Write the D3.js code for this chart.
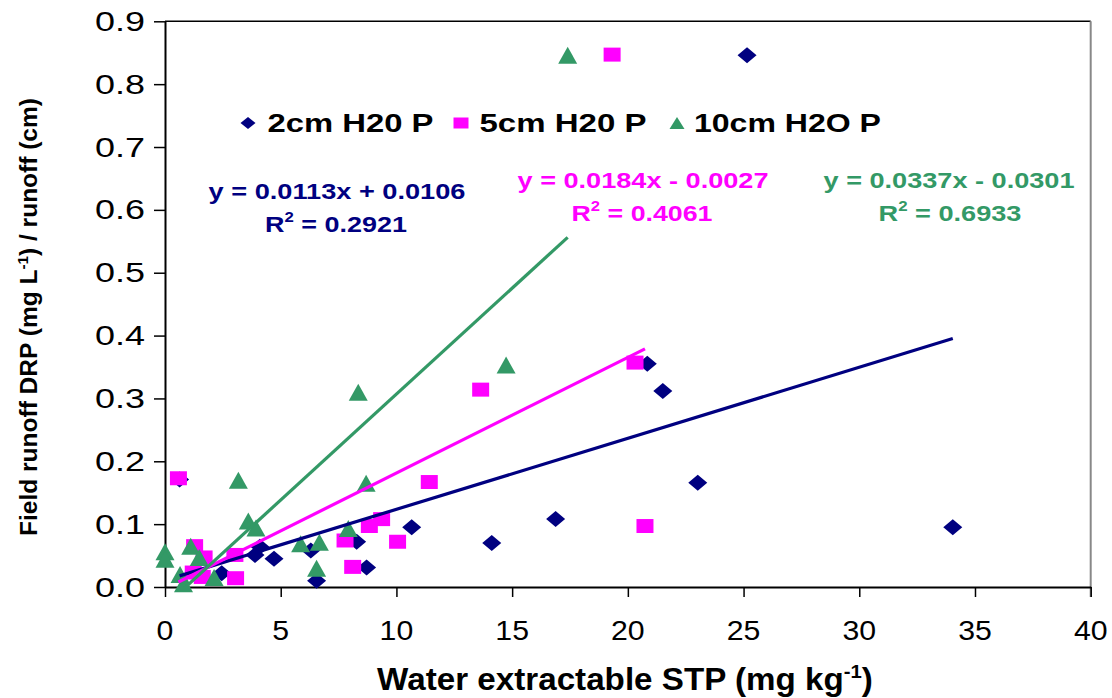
<!DOCTYPE html>
<html><head><meta charset="utf-8">
<script src="https://cdn.jsdelivr.net/npm/d3@7"></script>
<style>
body{margin:0;background:#fff}
svg{display:block}
text{font-family:"Liberation Sans",Arial,sans-serif}
</style>
</head><body>
<svg id="c" width="1112" height="698"></svg>
<script>
// ---- data ----
const seriesNames = ["2cm H20 P", "5cm H20 P", "10cm H2O P"];
const colors = ["#000080", "#FF00FF", "#339966"];
const xTicks = [0, 5, 10, 15, 20, 25, 30, 35, 40];
const yTicks = [0, 0.1, 0.2, 0.3, 0.4, 0.5, 0.6, 0.7, 0.8, 0.9];

const data2cm = [[0.63,0.171],[2.45,0.022],[3.89,0.051],[4.1,0.064],[4.71,0.045],[6.3,0.058],[6.55,0.010],[8.28,0.072],[8.71,0.031],[10.66,0.095],[14.12,0.070],[16.88,0.108],[20.84,0.355],[21.51,0.312],[23.02,0.166],[25.15,0.846],[34.04,0.095]];
const data5cm = [[0.58,0.173],[1.28,0.065],[1.69,0.047],[1.22,0.023],[1.61,0.016],[3.02,0.051],[3.05,0.014],[7.78,0.074],[8.11,0.032],[8.83,0.097],[9.36,0.108],[10.05,0.072],[11.42,0.167],[13.64,0.314],[19.32,0.847],[20.31,0.357],[20.74,0.097]];
const data10cm = [[0,0.056],[0,0.044],[0.65,0.02],[0.8,0.005],[1.11,0.065],[1.48,0.047],[2.12,0.015],[3.17,0.170],[3.6,0.105],[3.93,0.094],[5.86,0.069],[6.55,0.030],[6.67,0.071],[7.92,0.093],[8.35,0.310],[8.69,0.165],[14.74,0.353],[17.4,0.846]];

const trendSlope = [0.0113, 0.0184, 0.0337];
const trendIntercept = [0.0106, -0.0027, -0.0301];
const trendR2 = [0.2921, 0.4061, 0.6933];

// ---- layout ----
const svg = d3.select("#c");
const x = d3.scaleLinear().domain([0, 40]).range([165, 1090.7]);
const y = d3.scaleLinear().domain([0, 0.9]).range([587, 21.3]);
const allData = [data2cm, data5cm, data10cm];

function fit(t, w, tx, ty, rot) {
  const bw = t.node().getBBox().width;
  const s = w / bw;
  t.attr("transform", `translate(${tx},${ty})` + (rot ? ` rotate(${rot})` : "") + ` scale(${s},1)`);
}

const shape = [
  (w,h)=>`M0,${-h/2}L${w/2},0L0,${h/2}L${-w/2},0Z`,
  (w,h)=>`M${-w/2},${-h/2}h${w}v${h}h${-w}Z`,
  (w,h)=>`M0,${-h/2}L${w/2},${h/2}L${-w/2},${h/2}Z`
];
const msize = [[19,16],[17,14],[19,17]];

// frame
svg.append("line").attr("x1", x(0)).attr("x2", x(40)).attr("y1", y(0.9)).attr("y2", y(0.9))
  .attr("stroke", "#000").attr("stroke-width", 1.5);
svg.append("line").attr("x1", x(40)).attr("x2", x(40)).attr("y1", y(0.9)).attr("y2", y(0) + 10)
  .attr("stroke", "#888").attr("stroke-width", 2);

// axes
const gx = svg.append("g").attr("transform", `translate(0,${y(0)})`)
  .call(d3.axisBottom(x).tickValues(xTicks).tickSize(10).tickSizeOuter(0).tickFormat(""));
const gy = svg.append("g").attr("transform", `translate(${x(0)},0)`)
  .call(d3.axisLeft(y).tickValues(yTicks).tickSize(11).tickSizeOuter(0).tickFormat(""));
[gx, gy].forEach(g => {
  g.select(".domain").attr("stroke", "#000").attr("stroke-width", 2);
  g.selectAll(".tick line").attr("stroke", "#000").attr("stroke-width", 1.5);
});

// tick labels
svg.append("g").selectAll("text").data(xTicks).join("text")
  .attr("text-anchor", "middle").attr("font-size", 28).attr("fill", "#000")
  .text(d => d)
  .each(function(d){ d3.select(this).attr("transform", `translate(${x(d)},640) scale(1.08,1)`); });
svg.append("g").selectAll("text").data(yTicks).join("text")
  .attr("text-anchor", "end").attr("font-size", 27).attr("fill", "#000")
  .text(d => d.toFixed(1))
  .each(function(d){ fit(d3.select(this), 50, 145, y(d) + 9.5); });

// axis titles
const xt = svg.append("text").attr("text-anchor", "middle").attr("font-size", 31)
  .attr("font-weight", "bold");
xt.append("tspan").text("Water extractable STP (mg kg");
xt.append("tspan").attr("font-size", 19).attr("dy", -12).text("-1");
xt.append("tspan").attr("dy", 12).text(")");
fit(xt, 496, 625, 690);

const yt = svg.append("text").attr("text-anchor", "middle").attr("font-size", 24)
  .attr("font-weight", "bold");
yt.append("tspan").text("Field runoff DRP (mg L");
yt.append("tspan").attr("font-size", 15).attr("dy", -9).text("-1");
yt.append("tspan").attr("dy", 9).text(") / runoff (cm)");
fit(yt, 438, 37, 317, -90);

// markers
allData.forEach((ds, i) => {
  svg.append("g").selectAll("path").data(ds).join("path")
    .attr("d", shape[i](msize[i][0], msize[i][1]))
    .attr("transform", d => `translate(${x(d[0])},${y(d[1])})`)
    .attr("fill", colors[i]);
});

// trendlines
svg.append("clipPath").attr("id", "clip").append("rect")
  .attr("x", x(0)).attr("y", y(0.9)).attr("width", x(40) - x(0)).attr("height", y(0) - y(0.9));
const line = d3.line().x(d => x(d[0])).y(d => y(d[1]));
allData.forEach((ds, i) => {
  const ext = d3.extent(ds, d => d[0]);
  const pts = ext.map(v => [v, trendSlope[i] * v + trendIntercept[i]]);
  svg.append("path").attr("d", line(pts)).attr("stroke", colors[i]).attr("stroke-width", 3.2)
    .attr("fill", "none").attr("clip-path", "url(#clip)");
});

// legend
const legX = [248, 461, 677];
const legTextX = [267.5, 479.5, 694];
const legW = [166, 167, 187];
seriesNames.forEach((n, i) => {
  svg.append("path").attr("d", shape[i](15, i === 1 ? 11 : 12))
    .attr("transform", `translate(${legX[i]},123)`).attr("fill", colors[i]);
  const t = svg.append("text").attr("font-size", 25).attr("font-weight", "bold").attr("fill", "#000").text(n);
  fit(t, legW[i], legTextX[i], 132);
});

// equations
const eqCx = [337, 643, 949];
const r2Cx = [336, 642, 950];
const eqY = [198.5, 187.5, 187.5];
const r2Y = [232, 221, 221];
const eqW = [257, 251, 251];
const r2W = [142, 141, 143];
function eqStr(m, b) { return `y = ${m.toFixed(4)}x ${b < 0 ? "-" : "+"} ${Math.abs(b).toFixed(4)}`; }
trendSlope.forEach((m, i) => {
  const t = svg.append("text").attr("text-anchor", "middle").attr("font-size", 22.5)
    .attr("font-weight", "bold").attr("fill", colors[i]).text(eqStr(m, trendIntercept[i]));
  fit(t, eqW[i], eqCx[i], eqY[i]);
  const r = svg.append("text").attr("text-anchor", "middle").attr("font-size", 22.5)
    .attr("font-weight", "bold").attr("fill", colors[i]);
  r.append("tspan").text("R");
  r.append("tspan").attr("font-size", 14).attr("dy", -10).text("2");
  r.append("tspan").attr("dy", 10).text(" = " + trendR2[i].toFixed(4));
  fit(r, r2W[i], r2Cx[i], r2Y[i]);
});
</script>
</body></html>
